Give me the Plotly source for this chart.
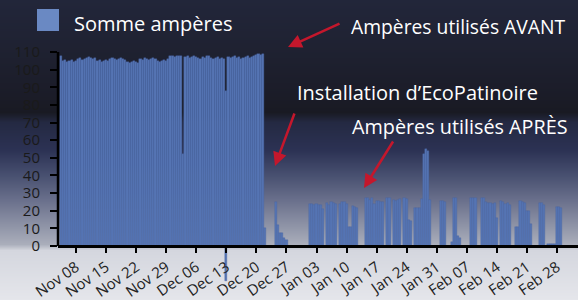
import base64
import struct
import zlib

import numpy as np
import pandas as pd
import plotly.graph_objects as go

# ---------------- data ----------------
series_name = "Somme ampères"
start_time = "2010-11-04 12:00"   # first reading, readings every 12 h
step = "12h"

# before the EcoPatinoire installation (Nov 4 12:00 -> Dec 21 12:00)
amps_before = [
    108,
    105, 105.5, 104.5, 105, 105.5, 104.5, 105,
    106, 106.5, 105.5, 106,
    106.5, 107, 106.5, 106, 106.5,
    105, 105.5, 104.5, 105, 105.5, 105,
    106, 106.5, 106, 105.5, 106, 106.5, 106, 105.5,
    104.5, 104, 104.5, 105, 104.5, 104,
    106, 105.5, 106.5, 106, 105.5, 106, 106.5, 106,
    105, 104.5, 105, 105.5, 105, 106,
    107.5, 108, 107, 108, 107.5, 108,
    52,
    107, 107.5, 106.5, 107, 107.5, 107,
    106.5, 106, 107, 106.5, 108, 107.5, 106.5, 106, 106.5, 107, 106, 106.5, 106,
    88,
    107, 106.5, 107, 107.5, 106.5, 107, 106, 106.5, 107, 107.5, 106.5, 107,
    108, 108.5, 109, 108.5, 109,
]

# after the installation (Dec 22 00:00 -> Mar 1 00:00)
amps_after = [
    10, None, None, None, None, 25, 12, 7.5, 7.5, 4.5,
    3.5, None, None, None, None, None, None, None, None, None,
    None, 24, 24, 23, 24, 23.5, 23, 21, None, 24.5,
    23, 25, 24.5, 24, None, 24, 25, 25, 24, 11,
    11, 22.5, 22, 21.5, None, None, None, 27.5, 27, 26,
    27.5, 24, 25.5, 25.5, 25, 25, None, 27, 27, None,
    26, 25.5, 26, 26.5, None, 27, 26.5, 15, 14, None,
    21.5, 21.5, 21.5, 26.5, 52, 55, 54, 26, None, None,
    None, None, 25.5, 25.5, 25, None, None, 2, 27.5, 27,
    5.5, 4.5, None, None, None, None, 27.5, 27.5, 27, None,
    None, 27.5, 27.5, 25, 24.5, 24.5, 24, 24.5, 16, None,
    25.5, 25, 24, 24.5, 23.5, None, None, 11, 11, 25.5,
    25, 24.5, 20, 20, 12.5, None, None, None, 24.5, 24.5,
    23, None, 1, 1, 1, 1, 22, 22, 21.5,
]

# one faulty negative reading
neg_time = ["2010-12-13 00:00"]
neg_amps = [-20]

tick_dates = ["2010-11-08", "2010-11-15", "2010-11-22", "2010-11-29",
              "2010-12-06", "2010-12-13", "2010-12-20", "2010-12-27",
              "2011-01-03", "2011-01-10", "2011-01-17", "2011-01-24",
              "2011-01-31", "2011-02-07", "2011-02-14", "2011-02-21",
              "2011-02-28"]
tick_labels = ["Nov 08", "Nov 15", "Nov 22", "Nov 29", "Dec 06", "Dec 13",
               "Dec 20", "Dec 27", "Jan 03", "Jan 10", "Jan 17", "Jan 24",
               "Jan 31", "Feb 07", "Feb 14", "Feb 21", "Feb 28"]
y_ticks = [0, 10, 20, 30, 40, 50, 60, 70, 80, 90, 100, 110]

label_avant = "Ampères utilisés AVANT"
label_install = "Installation d’EcoPatinoire"
label_apres = "Ampères utilisés APRÈS"

# ---------------- build ----------------
amps = amps_before + amps_after
times = list(pd.date_range(start_time, periods=len(amps), freq=step))
x_all = times + list(pd.to_datetime(neg_time))
y_all = amps + neg_amps

W_FIG, H_FIG = 578, 300
L, T, W = 58, 52, 520
Y_TOP = 110
H0 = 194                     # pixels from value 0 up to value 110
H2 = 232                     # full plot-area height (room for the negative bar)
Y_MIN = -(H2 - H0) / (H0 / Y_TOP)
AXIS_POS = (0 - Y_MIN) / (Y_TOP - Y_MIN)


def px(x):
    return (x - L) / W


def py(y):
    return (T + H2 - y) / H2


# background gradient image (vertical)
stops = [
    (0, (34, 38, 58)), (45, (31, 34, 50)), (95, (27, 28, 40)),
    (112, (25, 26, 35)), (122, (36, 41, 66)), (150, (44, 50, 84)),
    (175, (72, 80, 112)), (200, (106, 112, 140)), (225, (142, 147, 166)),
    (244, (170, 174, 187)), (250, (212, 214, 222)), (300, (229, 230, 235)),
]
ys = np.arange(H_FIG)
sy = [s[0] for s in stops]
cols = np.stack([np.interp(ys, sy, [s[1][k] for s in stops]) for k in range(3)], axis=1)
cols = cols.round().astype(np.uint8)
wimg = 2
raw = b"".join(b"\x00" + bytes(np.repeat(cols[r][None, :], wimg, axis=0).ravel()) for r in range(H_FIG))


def chunk(tag, data):
    return struct.pack(">I", len(data)) + tag + data + struct.pack(">I", zlib.crc32(tag + data) & 0xFFFFFFFF)


png = (b"\x89PNG\r\n\x1a\n"
       + chunk(b"IHDR", struct.pack(">IIBBBBB", wimg, H_FIG, 8, 2, 0, 0, 0))
       + chunk(b"IDAT", zlib.compress(raw))
       + chunk(b"IEND", b""))
bg_src = "data:image/png;base64," + base64.b64encode(png).decode()

fig = go.Figure()
fig.add_trace(go.Bar(
    x=x_all, y=y_all, name=series_name,
    marker=dict(color="#5574b3", line=dict(color="#4a66a3", width=0.4)),
    showlegend=False,
))

FONT = "Open Sans"
annotations = [
    dict(text=series_name, x=px(73), y=py(23), size=20),
    dict(text=label_avant, x=px(350), y=py(26), size=19.3),
    dict(text=label_install, x=px(296), y=py(92), size=20),
    dict(text=label_apres, x=px(351), y=py(126), size=19.8),
]
for a in annotations:
    size = a.pop("size")
    a.update(xref="paper", yref="paper", xanchor="left", yanchor="middle",
             showarrow=False, borderpad=0,
             font=dict(family=FONT, size=size, color="#ffffff"))

arrows = [((341, 23), (288, 47)), ((295, 112), (275, 166)), ((394, 140), (364, 188))]
for (tx, ty), (hx, hy) in arrows:
    annotations.append(dict(
        text="", x=px(hx), y=py(hy), xref="paper", yref="paper",
        ax=tx - hx, ay=ty - hy, showarrow=True, arrowhead=2, arrowsize=1.1,
        arrowwidth=2.5, arrowcolor="#c4172c", standoff=0, startstandoff=0,
    ))

fig.update_layout(
    width=W_FIG, height=H_FIG,
    margin=dict(l=L, r=W_FIG - L - W, t=T, b=H_FIG - T - H2, pad=0),
    paper_bgcolor="#22263a", plot_bgcolor="rgba(0,0,0,0)",
    bargap=0, showlegend=False,
    font=dict(family=FONT),
    annotations=annotations,
    shapes=[
        dict(type="rect", xref="paper", yref="paper",
             x0=px(37), x1=px(59), y0=py(31), y1=py(9),
             fillcolor="#6a89c3", line=dict(width=0)),
        # value axis line, from 0 up to the top of the scale
        dict(type="line", xref="paper", yref="y", x0=0, x1=0, y0=0, y1=Y_TOP,
             line=dict(color="#000000", width=2.5), layer="above"),
    ],
    images=[dict(source=bg_src, xref="paper", yref="paper",
                 x=px(0), y=py(0), sizex=W_FIG / W, sizey=H_FIG / H2,
                 xanchor="left", yanchor="top", sizing="stretch", layer="below")],
    xaxis=dict(
        type="date", range=["2010-11-03 19:26", "2011-03-04 21:08"],
        anchor="free", position=AXIS_POS,
        tickmode="array", tickvals=tick_dates, ticktext=tick_labels,
        tickangle=-35, tickfont=dict(family=FONT, size=15, color="#222222"),
        ticks="outside", ticklen=5, tickwidth=2, tickcolor="#000000",
        showline=True, linecolor="#000000", linewidth=2.5,
        showgrid=False, zeroline=False, automargin=False,
    ),
    yaxis=dict(
        range=[Y_MIN, Y_TOP], tickmode="array", tickvals=y_ticks,
        tickfont=dict(family=FONT, size=15, color="#1a1a1a"),
        ticks="outside", ticklen=7, tickwidth=2, tickcolor="#000000",
        ticklabelstandoff=7,
        showline=False, showgrid=False, zeroline=False, automargin=False,
    ),
)

fig.write_html(
    "out.html",
    config={"displayModeBar": False},
    post_script="document.body.style.margin='0';document.body.style.overflow='hidden';",
)
